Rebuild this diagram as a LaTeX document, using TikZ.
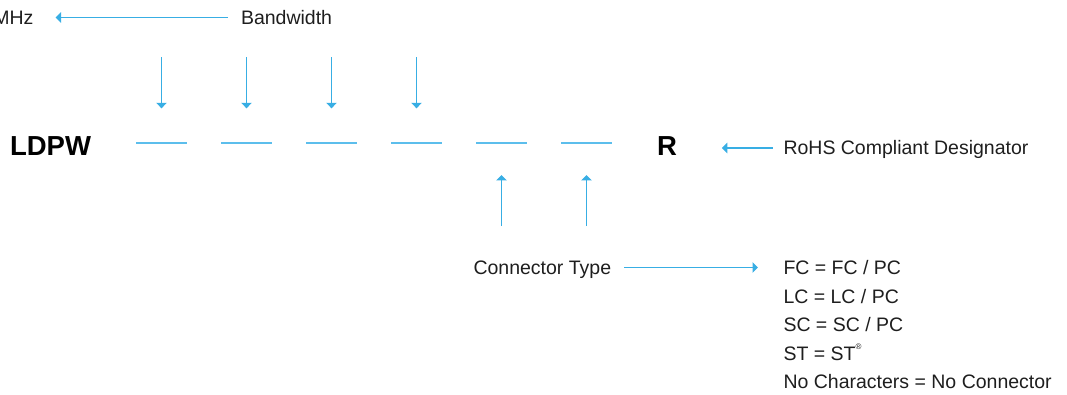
\documentclass[tikz,border=0pt]{standalone}
\usepackage{fontspec}
\setmainfont{Liberation Sans}
\usepackage{xcolor}
\usepackage{tikz}
\usetikzlibrary{arrows, arrows.meta}

\definecolor{codeblue}{RGB}{56,174,228}
\definecolor{dashblue}{RGB}{92,190,236}
\definecolor{labelgray}{RGB}{30,30,30}

\tikzset{
  labeltext/.style={inner sep=0pt, outer sep=0pt, anchor=base west, text height=14pt, text depth=0pt,
    text=labelgray, font=\fontsize{19.5}{23}\selectfont},
  boldtext/.style={inner sep=0pt, outer sep=0pt, anchor=base west, text height=19.7pt, text depth=0pt,
    font=\fontsize{27.5}{32}\selectfont\bfseries},
  bluearrow/.style={codeblue, line width=1.2pt, -{Triangle[length=5.5pt,width=10.5pt]}},
  dashline/.style={dashblue, line width=1.7pt},
}

\begin{document}
\begin{tikzpicture}[x=1pt,y=1pt]
\useasboundingbox (0,0) rectangle (1067,394);

% code letters
\node[boldtext] (LDPW) at (10,238) {LDPW};
\node[boldtext] (R) at (657,238) {R};

% blanks of the part number
\coordinate (d1) at (161.5,250.7);
\coordinate (d2) at (246.5,250.7);
\coordinate (d3) at (331.5,250.7);
\coordinate (d4) at (416.5,250.7);
\coordinate (d5) at (501.5,250.7);
\coordinate (d6) at (586.5,250.7);
\draw[dashline] ([xshift=-25.5pt]d1) -- ([xshift=25.5pt]d1);
\draw[dashline] ([xshift=-25.5pt]d2) -- ([xshift=25.5pt]d2);
\draw[dashline] ([xshift=-25.5pt]d3) -- ([xshift=25.5pt]d3);
\draw[dashline] ([xshift=-25.5pt]d4) -- ([xshift=25.5pt]d4);
\draw[dashline] ([xshift=-25.5pt]d5) -- ([xshift=25.5pt]d5);
\draw[dashline] ([xshift=-25.5pt]d6) -- ([xshift=25.5pt]d6);

% bandwidth
\node[labeltext, anchor=base east] (MHz) at (33.5,369.5) {MHz};
\node[labeltext] (Bandwidth) at (241,369.5) {Bandwidth};
\draw[bluearrow] ([xshift=-13pt]Bandwidth.west) -- ([xshift=22pt]MHz.east);
\draw[bluearrow] ([yshift=86pt]d1) -- ([yshift=35pt]d1);
\draw[bluearrow] ([yshift=86pt]d2) -- ([yshift=35pt]d2);
\draw[bluearrow] ([yshift=86pt]d3) -- ([yshift=35pt]d3);
\draw[bluearrow] ([yshift=86pt]d4) -- ([yshift=35pt]d4);

% RoHS
\node[labeltext] (RoHS) at (783.5,239) {RoHS Compliant Designator};
\coordinate (Rtip) at ([xshift=45pt]R.east);
\draw[bluearrow] ([xshift=-11pt]RoHS.west) -- (Rtip |- RoHS.west);

% connector type
\draw[bluearrow] ([yshift=-82.7pt]d5) -- ([yshift=-31.7pt]d5);
\draw[bluearrow] ([yshift=-82.7pt]d6) -- ([yshift=-31.7pt]d6);
\node[labeltext] (ctype) at (473.5,119.5) {Connector Type};
\node[labeltext] (fc) at (783.5,119.5) {FC = FC / PC};
\node[labeltext] (lc) at (783.5,91) {LC = LC / PC};
\node[labeltext] (sc) at (783.5,62.5) {SC = SC / PC};
\node[labeltext] (st) at (783.5,34) {ST = ST\raisebox{0.55em}{\fontsize{8}{8}\selectfont\textregistered}};
\node[labeltext] (none) at (783.5,5.5) {No Characters = No Connector};
\draw[bluearrow] ([xshift=13pt]ctype.east) -- ([xshift=-25.5pt]fc.west);
\end{tikzpicture}
\end{document}
